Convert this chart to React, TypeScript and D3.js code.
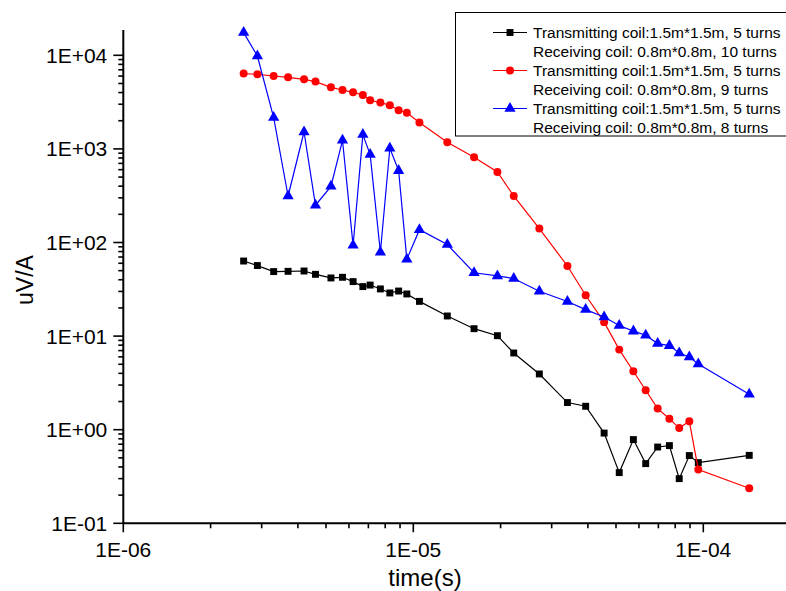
import React, { useEffect, useRef } from "react";
import * as d3 from "d3";

// sample times (s), shared by all three curves
const times = [
  2.6e-6, 2.9e-6, 3.3e-6, 3.7e-6, 4.2e-6, 4.6e-6, 5.2e-6, 5.7e-6, 6.2e-6, 6.7e-6,
  7.1e-6, 7.7e-6, 8.3e-6, 8.9e-6, 9.5e-6, 1.05e-5, 1.31e-5, 1.62e-5, 1.95e-5, 2.22e-5,
  2.72e-5, 3.4e-5, 3.93e-5, 4.55e-5, 5.13e-5, 5.74e-5, 6.33e-5, 6.96e-5, 7.64e-5, 8.26e-5,
  8.95e-5, 9.61e-5, 1.44e-4,
];

const turns10 = [
  63.4, 56.7, 48.9, 49.2, 49.6, 45.7, 41.8, 42.5, 38.2, 33.8,
  35.1, 31.9, 28.9, 30.3, 28.2, 23.5, 16.4, 12.0, 10.1, 6.6,
  3.94, 1.95, 1.78, 0.92, 0.348, 0.784, 0.434, 0.653, 0.676, 0.3,
  0.529, 0.445, 0.532,
];

const turns9 = [
  6375, 6266, 6009, 5821, 5541, 5236, 4550, 4259, 4024, 3766,
  3305, 3124, 2923, 2585, 2431, 1910, 1176, 813, 567, 314,
  141, 56.1, 27.3, 14.1, 7.17, 4.21, 2.64, 1.68, 1.31, 1.04,
  1.23, 0.375, 0.237,
];

const turns8 = [
  17480, 9829, 2160, 314, 1516, 250, 398, 1236, 93.3, 1421,
  869, 78.6, 1015, 586, 66.2, 137, 95, 47.5, 43.9, 41.2,
  30.1, 23.4, 19.2, 16.0, 13.0, 11.3, 10.2, 8.32, 7.91, 6.6,
  5.98, 5.03, 2.39,
];

const seriesLabels = [
  ["Transmitting coil:1.5m*1.5m, 5 turns", "Receiving coil: 0.8m*0.8m, 10 turns"],
  ["Transmitting coil:1.5m*1.5m, 5 turns", "Receiving coil: 0.8m*0.8m, 9 turns"],
  ["Transmitting coil:1.5m*1.5m, 5 turns", "Receiving coil: 0.8m*0.8m, 8 turns"],
];
const seriesColors = ["#000000", "#ff0000", "#0000ff"];
const seriesMarkers = [d3.symbolSquare, d3.symbolCircle, d3.symbolTriangle];
const seriesValues = [turns10, turns9, turns8];

const FONT = "'Liberation Sans', Arial, sans-serif";

const sci = (v: number) => {
  const e = Math.round(Math.log10(v));
  return "1E" + (e < 0 ? "-" : "+") + String(Math.abs(e)).padStart(2, "0");
};
const isDecade = (v: number) => Math.abs(Math.log10(v) - Math.round(Math.log10(v))) < 1e-6;

export default function App() {
  const ref = useRef<SVGSVGElement>(null);

  useEffect(() => {
    const svg = d3.select(ref.current);
    svg.selectAll("*").remove();

    const left = 123.3, bottom = 523.3, top = 30, right = 786;
    const decadeX = 290, decadeY = 93.6;

    const x = d3.scaleLog()
      .domain([1e-6, Math.pow(10, -6 + (right - left) / decadeX)])
      .range([left, right]);
    const y = d3.scaleLog()
      .domain([0.1, Math.pow(10, -1 + (bottom - top) / decadeY)])
      .range([bottom, top]);

    // x axis
    const xg = svg.append("g").attr("transform", `translate(0,${bottom})`);
    xg.append("line").attr("x1", left).attr("x2", right + 10)
      .attr("stroke", "#000").attr("stroke-width", 2);
    const xt = x.ticks().filter(t => x(t) <= right);
    xg.selectAll("line.tick").data(xt).join("line").attr("class", "tick")
      .attr("x1", d => x(d)).attr("x2", d => x(d))
      .attr("y1", 0).attr("y2", d => isDecade(d) ? 9 : 5)
      .attr("stroke", "#000").attr("stroke-width", 1.6);
    xg.selectAll("text").data(xt.filter(isDecade)).join("text")
      .attr("x", d => x(d)).attr("y", 34)
      .attr("text-anchor", "middle")
      .attr("font-family", FONT).attr("font-size", 21)
      .text(sci);

    // y axis
    const yg = svg.append("g").attr("transform", `translate(${left},0)`);
    yg.append("line").attr("y1", top).attr("y2", bottom)
      .attr("stroke", "#000").attr("stroke-width", 2);
    const yt = y.ticks().filter(t => y(t) >= top);
    yg.selectAll("line.tick").data(yt).join("line").attr("class", "tick")
      .attr("y1", d => y(d)).attr("y2", d => y(d))
      .attr("x1", 0).attr("x2", d => isDecade(d) ? -10 : -5)
      .attr("stroke", "#000").attr("stroke-width", 1.6);
    yg.selectAll("text").data(yt.filter(isDecade)).join("text")
      .attr("x", -16).attr("y", d => y(d) + 7.5)
      .attr("text-anchor", "end")
      .attr("font-family", FONT).attr("font-size", 21)
      .text(sci);

    // axis titles
    svg.append("text")
      .attr("x", 425).attr("y", 586)
      .attr("text-anchor", "middle")
      .attr("font-family", FONT).attr("font-size", 24)
      .text("time(s)");
    svg.append("text")
      .attr("transform", "translate(33,280) rotate(-90)")
      .attr("text-anchor", "middle")
      .attr("font-family", FONT).attr("font-size", 23)
      .text("uV/A");

    // curves
    const line = d3.line<number>()
      .x((d, i) => x(times[i]))
      .y(d => y(d));

    const markerSizes = [48, 50, 55];
    seriesValues.forEach((vals, s) => {
      svg.append("path")
        .datum(vals)
        .attr("d", line)
        .attr("fill", "none")
        .attr("stroke", seriesColors[s])
        .attr("stroke-width", 1.2);
      svg.append("g").selectAll("path").data(vals).join("path")
        .attr("transform", (d, i) => `translate(${x(times[i])},${y(d)})`)
        .attr("d", d3.symbol(seriesMarkers[s], markerSizes[s]))
        .attr("fill", seriesColors[s]);
    });

    // legend
    const lg = svg.append("g");
    lg.append("rect")
      .attr("x", 455.5).attr("y", 12.5)
      .attr("width", 340).attr("height", 123.5)
      .attr("fill", "#fff").attr("stroke", "#000").attr("stroke-width", 1);
    seriesLabels.forEach((lbl, s) => {
      const cy = 32.5 + s * 38;
      lg.append("line").attr("x1", 493).attr("x2", 527)
        .attr("y1", cy).attr("y2", cy)
        .attr("stroke", seriesColors[s]).attr("stroke-width", 1.2);
      lg.append("path")
        .attr("transform", `translate(510,${cy})`)
        .attr("d", d3.symbol(seriesMarkers[s], markerSizes[s])())
        .attr("fill", seriesColors[s]);
      lbl.forEach((t, k) => {
        lg.append("text")
          .attr("x", 533).attr("y", cy + 5.5 + k * 19)
          .attr("font-family", FONT).attr("font-size", 15.5)
          .text(t);
      });
    });
  }, []);

  return (
    <svg ref={ref} width={786} height={591}
      style={{ position: "absolute", left: 0, top: 0, background: "#fff" }} />
  );
}
